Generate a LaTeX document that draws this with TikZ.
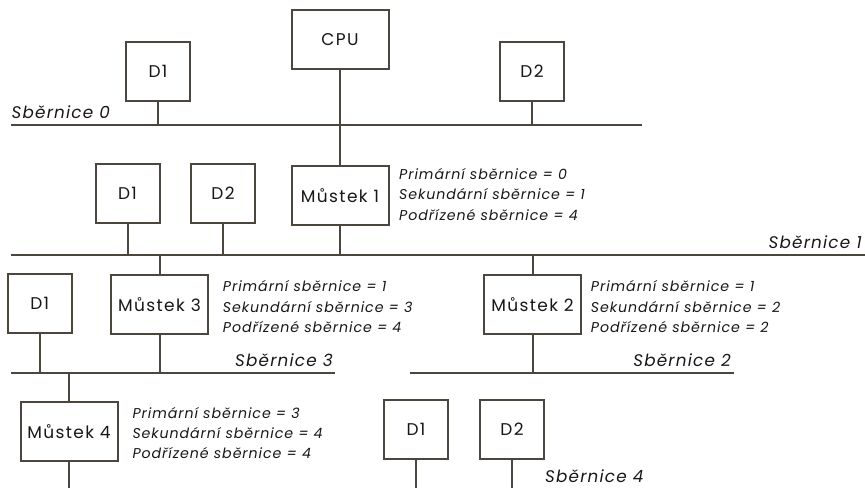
\documentclass[tikz,border=0pt]{standalone}
\usepackage{fontspec}
\setmainfont{Poppins}
\definecolor{linec}{RGB}{75,70,62}
\definecolor{textc}{RGB}{25,23,21}
\begin{document}
\begin{tikzpicture}[x=1pt,y=-1pt,
  wire/.style={draw=linec, line width=2pt},
  dev/.style={draw=linec, line width=2pt, fill=white, text=textc,
    minimum width=64pt, minimum height=59pt, inner sep=0pt,
    font=\fontsize{17}{19}\selectfont\addfontfeature{LetterSpace=8}},
  bridge/.style={dev, minimum width=97pt},
  info/.style={align=left, anchor=base west, inner sep=0pt, text=textc,
    font=\fontsize{14.2}{20.3}\selectfont\itshape\addfontfeature{LetterSpace=6.5}},
  buslabel/.style={inner sep=0pt, text=textc,
    font=\fontsize{16.8}{19}\selectfont\itshape\addfontfeature{LetterSpace=7}}]

\useasboundingbox (0,0) rectangle (865,488);

% bus end points
\coordinate (b0l) at (11,125);   \coordinate (b0r) at (642,125);
\coordinate (b1l) at (11,254.5); \coordinate (b1r) at (865,254.5);
\coordinate (b3l) at (11,372.7); \coordinate (b3r) at (335,372.7);
\coordinate (b2l) at (410,372.7);\coordinate (b2r) at (734,372.7);
\coordinate (bot) at (0,488);

% devices and bridges
\node[bridge] (cpu) at (340,39.7) {CPU};
\node[dev] (d1a) at (158,71.7) {D1};
\node[dev] (d2a) at (532,71.7) {D2};

\node[bridge] (m1) at (340,195.3) {Můstek 1};
\node[dev] (d1b) at (127.5,193.7) {D1};
\node[dev] (d2b) at (223,193.7) {D2};

\node[dev] (d1c) at (39.7,303) {D1};
\node[bridge] (m3) at (159.5,304.7) {Můstek 3};
\node[bridge] (m2) at (532.5,304.7) {Můstek 2};

\node[bridge] (m4) at (69,431.3) {Můstek 4};
\node[dev] (d1d) at (416,429.7) {D1};
\node[dev] (d2d) at (512,429.7) {D2};

% buses
\draw[wire] (b0l) -- (b0r);
\draw[wire] (b1l) -- (b1r);
\draw[wire] (b3l) -- (b3r);
\draw[wire] (b2l) -- (b2r);

% stems
\draw[wire] (d1a.south) -- (d1a.south |- b0l);
\draw[wire] (d2a.south) -- (d2a.south |- b0l);
\draw[wire] (cpu.south) -- (m1.north);
\draw[wire] (d1b.south) -- (d1b.south |- b1l);
\draw[wire] (d2b.south) -- (d2b.south |- b1l);
\draw[wire] (m1.south) -- (m1.south |- b1l);
\draw[wire] (m3.north |- b1l) -- (m3.north);
\draw[wire] (m2.north |- b1l) -- (m2.north);
\draw[wire] (d1c.south) -- (d1c.south |- b3l);
\draw[wire] (m3.south) -- (m3.south |- b3l);
\draw[wire] (m2.south) -- (m2.south |- b2l);
\draw[wire] (m4.north |- b3l) -- (m4.north);
\draw[wire] (m4.south) -- (m4.south |- bot);
\draw[wire] (d1d.south) -- (d1d.south |- bot);
\draw[wire] (d2d.south) -- (d2d.south |- bot);

% bus labels
\node[buslabel, anchor=base west] (l0) at (11.5,118.5) {Sběrnice 0};
\node[buslabel, anchor=base east] (l1) at (862,248.5) {Sběrnice 1};
\node[buslabel, anchor=base east] (l3) at (333,366) {Sběrnice 3};
\node[buslabel, anchor=base east] (l2) at (731,366) {Sběrnice 2};
\node[buslabel, anchor=base west] (l4) at (545,482.5) {Sběrnice 4};

% bridge register values (anchored at the last line's baseline)
\node[info] (i1) at (399,220.1) {Primární sběrnice = 0\\Sekundární sběrnice = 1\\Podřízené sběrnice = 4};
\node[info] (i3) at (222.7,332.3) {Primární sběrnice = 1\\Sekundární sběrnice = 3\\Podřízené sběrnice = 4};
\node[info] (i2) at (590.7,332.3) {Primární sběrnice = 1\\Sekundární sběrnice = 2\\Podřízené sběrnice = 2};
\node[info] (i4) at (132.3,458.9) {Primární sběrnice = 3\\Sekundární sběrnice = 4\\Podřízené sběrnice = 4};
\end{tikzpicture}
\end{document}
